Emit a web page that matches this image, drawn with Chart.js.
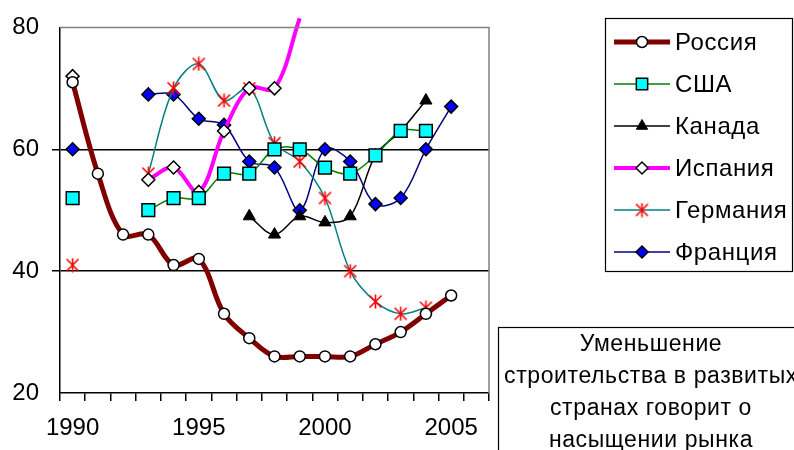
<!DOCTYPE html>
<html>
<head>
<meta charset="utf-8">
<script src="https://cdn.jsdelivr.net/npm/chart.js@4.4.0/dist/chart.umd.min.js"></script>
<style>
  html, body { margin: 0; padding: 0; background: #fff; }
  #wrap { width: 794px; height: 450px; }
</style>
</head>
<body>
<div id="wrap"><canvas id="myChart" width="794" height="450"></canvas></div>
<script>
// data
var years = ['1990','1991','1992','1993','1994','1995','1996','1997','1998','1999','2000','2001','2002','2003','2004','2005','2006'];
var tickYears = ['1990','1995','2000','2005'];
var russia  = [71, 56, 46, 46, 41, 42, 33, 29, 26, 26, 26, 26, 28, 30, 33, 36, null];
var usa     = [52, null, null, 50, 52, 52, 56, 56, 60, 60, 57, 56, 59, 63, 63, null, null];
var canada  = [null, null, null, null, null, null, null, 49, 46, 49, 48, 49, 59, 63, 68, null, null];
var spain   = [72, null, null, 55, 57, 53, 63, 70, 70, 81.5, null, null, null, null, null, null, null];
var germany = [41, null, null, 56, 70, 74, 68, 70, 61, 58, 52, 40, 35, 33, 34, null, null];
var france  = [60, null, null, 69, 69, 65, 64, 58, 57, 50, 60, 58, 51, 52, 60, 67, null];
var note = ['Уменьшение', 'строительства в развитых', 'странах говорит о', 'насыщении рынка'];

var FONT = "'Liberation Sans', Arial, sans-serif";

// asterisk marker like the Excel one
var star = document.createElement('canvas');
star.width = 15; star.height = 15;
(function () {
  var c = star.getContext('2d');
  c.strokeStyle = '#FF0000';
  c.lineWidth = 1.6;
  c.beginPath();
  c.moveTo(7.5, 0.5); c.lineTo(7.5, 14.5);
  c.moveTo(1.5, 1.5); c.lineTo(13.5, 13.5);
  c.moveTo(13.5, 1.5); c.lineTo(1.5, 13.5);
  c.stroke();
})();

var hideAbove = function (ctx) {
  var v = ctx.raw;
  return (v !== null && v > 80) ? 0 : 6.5;
};

var boxes = {
  id: 'boxes',
  afterDraw: function (chart) {
    var ctx = chart.ctx, a = chart.chartArea;
    ctx.save();
    // plot area border (gray top and right)
    ctx.strokeStyle = '#808080';
    ctx.lineWidth = 1.5;
    ctx.beginPath();
    ctx.moveTo(a.left, a.top); ctx.lineTo(a.right, a.top); ctx.lineTo(a.right, a.bottom);
    ctx.stroke();

    // legend
    ctx.strokeStyle = '#000';
    ctx.lineWidth = 1.2;
    ctx.strokeRect(605.5, 18.5, 187, 253);
    ctx.font = '24px ' + FONT;
    ctx.letterSpacing = '0.6px';
    ctx.textBaseline = 'middle';
    ctx.textAlign = 'left';
    chart.data.datasets.forEach(function (ds, i) {
      var y = 42 + i * 42;
      ctx.strokeStyle = ds.borderColor;
      ctx.lineWidth = ds.borderWidth;
      ctx.beginPath(); ctx.moveTo(614, y); ctx.lineTo(670, y); ctx.stroke();
      ctx.fillStyle = ds.pointBackgroundColor || '#000';
      ctx.strokeStyle = ds.pointBorderColor || '#000';
      ctx.lineWidth = ds.pointBorderWidth;
      Chart.helpers.drawPoint(ctx, {
        pointStyle: ds.pointStyle, radius: ds.legendRadius, rotation: 0,
        borderWidth: ds.pointBorderWidth
      }, 642, y);
      ctx.fillStyle = '#000';
      ctx.fillText(ds.label, 675, y + 1);
    });
    ctx.restore();

    ctx.save();
    // note box
    ctx.strokeStyle = '#000';
    ctx.lineWidth = 1.2;
    ctx.strokeRect(498.5, 327.5, 320, 140);
    ctx.fillStyle = '#000';
    ctx.font = '23px ' + FONT;
    ctx.letterSpacing = '0.6px';
    ctx.textAlign = 'center';
    ctx.textBaseline = 'middle';
    note.forEach(function (t, i) {
      ctx.fillText(t, 651, 345 + i * 32);
    });
    ctx.restore();
  }
};

var ctx = document.getElementById('myChart').getContext('2d');

var myChart = new Chart(ctx, {
  type: 'line',
  data: {
    labels: years,
    datasets: [{
      label: 'Россия',
      data: russia,
      borderColor: '#800000',
      borderWidth: 5,
      pointStyle: 'circle',
      pointRadius: 5.5,
      legendRadius: 5.5,
      pointBackgroundColor: '#FFFFFF',
      pointBorderColor: '#000000',
      pointBorderWidth: 1.5,
      tension: 0.35
    }, {
      label: 'США',
      data: usa,
      borderColor: '#008000',
      borderWidth: 1.5,
      pointStyle: 'rect',
      pointRadius: 9,
      legendRadius: 8,
      pointBackgroundColor: '#00FFFF',
      pointBorderColor: '#000000',
      pointBorderWidth: 1.5,
      tension: 0.35
    }, {
      label: 'Канада',
      data: canada,
      borderColor: '#000000',
      borderWidth: 1.5,
      pointStyle: 'triangle',
      pointRadius: 7,
      legendRadius: 6.5,
      pointBackgroundColor: '#000000',
      pointBorderColor: '#000000',
      pointBorderWidth: 1,
      tension: 0.35
    }, {
      label: 'Испания',
      data: spain,
      borderColor: '#FF00FF',
      borderWidth: 4,
      pointStyle: 'rectRot',
      pointRadius: hideAbove,
      legendRadius: 6,
      pointBackgroundColor: '#FFFFFF',
      pointBorderColor: '#000000',
      pointBorderWidth: 1.5,
      tension: 0.35,
      clip: false
    }, {
      label: 'Германия',
      data: germany,
      borderColor: '#008080',
      borderWidth: 1.5,
      pointStyle: star,
      pointRadius: 7,
      legendRadius: 7,
      pointBorderWidth: 0,
      tension: 0.35
    }, {
      label: 'Франция',
      data: france,
      borderColor: '#000080',
      borderWidth: 1.5,
      pointStyle: 'rectRot',
      pointRadius: 6.5,
      legendRadius: 6,
      pointBackgroundColor: '#0000FF',
      pointBorderColor: '#000000',
      pointBorderWidth: 1.5,
      tension: 0.35
    }]
  },
  options: {
    responsive: false,
    animation: false,
    spanGaps: false,
    layout: { padding: { top: 25, right: 305, bottom: 0, left: 0 } },
    plugins: {
      legend: { display: false },
      tooltip: { enabled: false }
    },
    scales: {
      x: {
        offset: true,
        afterFit: function (s) { s.height = 57; },
        border: { color: '#000', width: 1.5 },
        grid: {
          offset: true,
          drawOnChartArea: false,
          drawTicks: true,
          tickLength: 8,
          color: '#000',
          lineWidth: 1.5
        },
        ticks: {
          autoSkip: false,
          maxRotation: 0,
          padding: 13,
          color: '#000',
          font: { family: FONT, size: 24 },
          callback: function (v) {
            var l = this.getLabelForValue(v);
            return tickYears.indexOf(l) >= 0 ? l : '';
          }
        }
      },
      y: {
        min: 20,
        max: 80,
        afterFit: function (s) { s.width = 60; },
        border: { color: '#000', width: 1.5 },
        grid: {
          drawTicks: true,
          tickLength: 8,
          lineWidth: 1.5,
          color: function (c) {
            return (c.tick && (c.tick.value === 40 || c.tick.value === 60)) ? '#000' : 'rgba(0,0,0,0)';
          }
        },
        ticks: {
          stepSize: 20,
          padding: 13,
          color: '#000',
          font: { family: FONT, size: 24 }
        }
      }
    }
  },
  plugins: [boxes]
});
</script>
</body>
</html>
